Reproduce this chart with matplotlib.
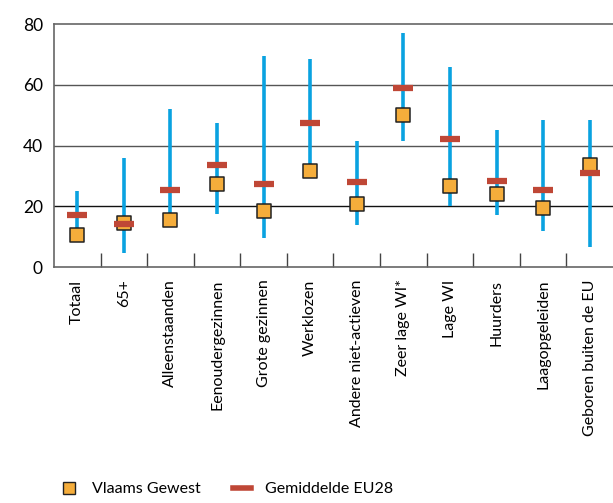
import numpy as np
import matplotlib.pyplot as plt
from matplotlib.lines import Line2D

plt.rcParams['font.family'] = ['Lato', 'DejaVu Sans']

categories = ["Totaal", "65+", "Alleenstaanden", "Eenoudergezinnen", "Grote gezinnen",
              "Werklozen", "Andere niet-actieven", "Zeer lage WI*", "Lage WI", "Huurders",
              "Laagopgeleiden", "Geboren buiten de EU"]
vlaams = [10.5, 14.5, 15.5, 27.5, 18.5, 31.5, 20.7, 50, 26.6, 24, 19.4, 33.5]
eu28 = [17, 14.3, 25.5, 33.7, 27.2, 47.5, 28, 59, 42.3, 28.2, 25.3, 31]
range_low = [10.5, 4.5, 15.5, 17.5, 9.5, 31.5, 14, 41.5, 20, 17, 12, 6.5]
range_high = [25, 36, 52, 47.5, 69.5, 68.5, 41.5, 77, 66, 45, 48.5, 48.5]

fig = plt.figure(figsize=(6.13, 5.03), dpi=100)
ax = fig.add_axes([0.088, 0.469, 0.912, 0.483])

x = np.arange(len(categories))
ax.vlines(x, range_low, range_high, color="#0aa2e0", lw=2.6, zorder=2)
ax.scatter(x, vlaams, marker="s", s=105, color="#f5ad3b", edgecolor="#222222",
           linewidth=1.1, zorder=3)
ax.scatter(x, eu28, marker="_", s=190, color="#bf4736", linewidth=4.5, zorder=4)

ax.set_xlim(-0.5, len(categories) - 0.5)
ax.set_ylim(0, 80)
ax.set_yticks([0, 20, 40, 60, 80])
ax.tick_params(axis="y", length=0, labelsize=12.5, pad=8)
for v in [20, 40, 60]:
    ax.axhline(v, color="#555555" if v > 20 else "#111111", lw=1.0, zorder=1)

ax.set_xticks(x)
ax.set_xticklabels(categories, rotation=90, fontsize=11.5)
ax.set_xticks(x[:-1] + 0.5, minor=True)
ax.tick_params(axis="x", which="major", length=0, pad=9)
ax.tick_params(axis="x", which="minor", direction="in", length=10, color="#444444", width=1)

for s in ["top", "left", "bottom"]:
    ax.spines[s].set_color("#666666")
    ax.spines[s].set_linewidth(1.2)
ax.spines["right"].set_visible(False)

handles = [
    Line2D([], [], marker="s", ls="none", markersize=9, markerfacecolor="#f5ad3b",
           markeredgecolor="#222222", markeredgewidth=1.0, label="Vlaams Gewest"),
    Line2D([], [], color="#bf4736", lw=4, label="Gemiddelde EU28"),
]
fig.legend(handles=handles, loc="lower left", bbox_to_anchor=(0.075, -0.015), ncol=2,
           frameon=False, fontsize=11.5, handlelength=1.1, columnspacing=2.0,
           handletextpad=0.9)

fig.savefig("out.png", dpi=100)
